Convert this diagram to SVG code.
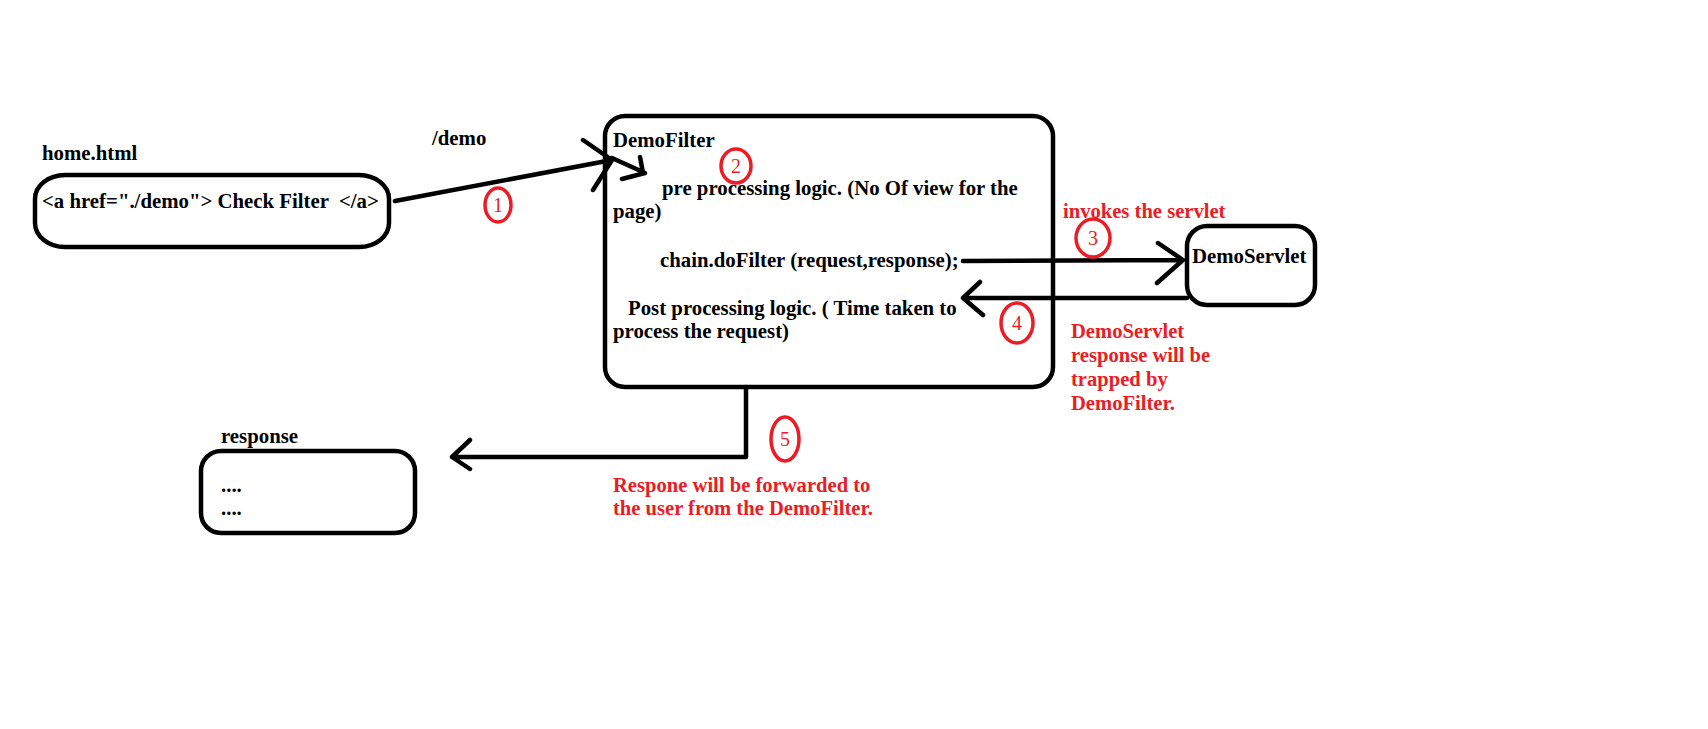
<svg xmlns="http://www.w3.org/2000/svg" width="1708" height="729" viewBox="0 0 1708 729">
<style>
.box{fill:none;stroke:#000;stroke-width:4.5}
.ln{fill:none;stroke:#000;stroke-width:4.5;stroke-linecap:round;stroke-linejoin:round}
.t{font-family:"Liberation Serif","Times New Roman",serif;font-weight:bold;font-size:20.8px;fill:#000;white-space:pre}
.r{fill:#ed1c24;font-size:20.6px}
.c{fill:none;stroke:#ed1c24;stroke-width:3.5}
.n{font-family:"Liberation Serif","Times New Roman",serif;font-size:20px;fill:#ed1c24;text-anchor:middle}
</style>
<rect width="1708" height="729" fill="#fff"/>
<g id="home">
<text class="t" x="42" y="160">home.html</text>
<rect class="box" x="35" y="175" width="354" height="72" rx="30" ry="24"/>
<text class="t" x="42" y="208" xml:space="preserve">&lt;a href="./demo"&gt; Check Filter  &lt;/a&gt;</text>
</g>
<g id="demofilter">
<rect class="box" x="605" y="116" width="448" height="271" rx="20"/>
<text class="t" x="613" y="147">DemoFilter</text>
<text class="t" x="662" y="195">pre processing logic. (No Of view for the</text>
<text class="t" x="613" y="218">page)</text>
<text class="t" x="660" y="267">chain.doFilter (request,response);</text>
<text class="t" x="628" y="315">Post processing logic. ( Time taken to</text>
<text class="t" x="613" y="338">process the request)</text>
</g>
<g id="demoservlet">
<rect class="box" x="1187" y="226" width="128" height="79" rx="20"/>
<text class="t" x="1192" y="263">DemoServlet</text>
</g>
<g id="response">
<text class="t" x="221" y="443">response</text>
<rect class="box" x="201" y="451" width="214" height="82" rx="20"/>
<text class="t" x="221" y="492">....</text>
<text class="t" x="221" y="515">....</text>
</g>
<g id="connectors">
<path class="ln" d="M395 201 L612 160 M583 140 L612 160 M593 190 L612 160 M612 158 L643 172 M640 157 L643 173 M622 179 L645 173"/>
<path class="ln" d="M963 261 L1183 260 M1158 243 L1183 260 L1157 283"/>
<path class="ln" d="M1187 298 L963 298 M980 282 L963 298 L983 315"/>
<path class="ln" d="M746 387 L746 457 L452 457 M470 440 L452 457 L470 469"/>
</g>
<g id="labels">
<text class="t" x="432" y="145">/demo</text>
<text class="t r" x="1063" y="218">invokes the servlet</text>
<text class="t r" x="1071" y="338">DemoServlet</text>
<text class="t r" x="1071" y="362">response will be</text>
<text class="t r" x="1071" y="386">trapped by</text>
<text class="t r" x="1071" y="410">DemoFilter.</text>
<text class="t r" x="613" y="492">Respone will be forwarded to</text>
<text class="t r" x="613" y="515">the user from the DemoFilter.</text>
</g>
<g id="steps">
<ellipse class="c" cx="498" cy="205" rx="13" ry="17"/>
<text class="n" x="498" y="212">1</text>
<ellipse class="c" cx="736" cy="166" rx="15" ry="17"/>
<text class="n" x="736" y="173">2</text>
<ellipse class="c" cx="1093" cy="238" rx="17" ry="19"/>
<text class="n" x="1093" y="245">3</text>
<ellipse class="c" cx="1017" cy="323" rx="16" ry="20"/>
<text class="n" x="1017" y="330">4</text>
<ellipse class="c" cx="785" cy="439" rx="14" ry="22"/>
<text class="n" x="785" y="446">5</text>
</g>
</svg>
